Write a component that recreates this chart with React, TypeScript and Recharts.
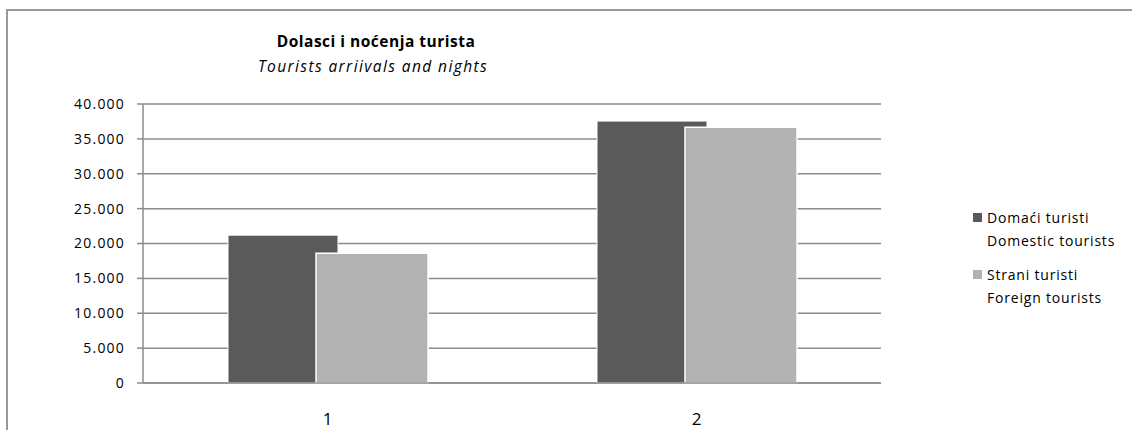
import React from 'react';
import { BarChart, Bar, XAxis, YAxis, CartesianGrid, Legend } from 'recharts';

const categories: string[] = ['1', '2'];
const domesticValues: number[] = [21200, 37550];
const foreignValues: number[] = [18600, 36650];
const yTicks: number[] = [0, 5000, 10000, 15000, 20000, 25000, 30000, 35000, 40000];
const domesticLabel: string[] = ['Domaći turisti', 'Domestic tourists'];
const foreignLabel: string[] = ['Strani turisti', 'Foreign tourists'];
const titleMain = 'Dolasci i noćenja turista';
const titleSub = 'Tourists arriivals and nights';

const data = categories.map((c, i) => ({
  name: c,
  domestic: domesticValues[i],
  foreign: foreignValues[i],
}));

const FONT = '"Open Sans", "Liberation Sans", sans-serif';
const GRID = '#8c8c8c';
const DARK = '#595a59';
const LIGHT = '#b2b2b2';

const fmt = (v: number) => String(v).replace(/\B(?=(\d{3})+(?!\d))/g, '.');

const LegendContent = () => {
  const items = [
    { color: DARK, lines: domesticLabel },
    { color: LIGHT, lines: foreignLabel },
  ];
  return (
    <div style={{ fontFamily: FONT, fontSize: 14, letterSpacing: 0.8, color: '#000', paddingLeft: 92 }}>
      {items.map((it, i) => (
        <div key={i} style={{ display: 'flex', alignItems: 'flex-start', marginBottom: i === 0 ? 11 : 0 }}>
          <div style={{ width: 9, height: 9, background: it.color, marginTop: 7, marginRight: 5 }} />
          <div style={{ lineHeight: '23px' }}>
            {it.lines.map((l, j) => (
              <div key={j}>{l}</div>
            ))}
          </div>
        </div>
      ))}
    </div>
  );
};

export default function App() {
  return (
    <div style={{ position: 'fixed', left: 0, top: 0, width: 1132, height: 430, overflow: 'hidden', background: '#fff' }}>
      <div
        style={{
          position: 'absolute',
          left: 6,
          top: 9,
          width: 1300,
          height: 600,
          border: '2px solid #999',
          boxSizing: 'border-box',
        }}
      />
      <div
        style={{
          position: 'absolute',
          left: 0,
          width: 752,
          top: 29,
          textAlign: 'center',
          fontFamily: FONT,
          color: '#000',
        }}
      >
        <div style={{ fontWeight: 700, fontSize: 15.5, letterSpacing: 0.5, lineHeight: '25px' }}>{titleMain}</div>
        <div style={{ fontStyle: 'italic', fontSize: 15.5, letterSpacing: 1.4, lineHeight: '25px', marginLeft: -6 }}>{titleSub}</div>
      </div>
      <div style={{ position: 'absolute', left: 0, top: 0 }}>
        <BarChart
          width={1132}
          height={430}
          data={data}
          margin={{ top: 104, right: 0, bottom: 7, left: 83 }}
          barGap={-22}
        >
          <CartesianGrid vertical={false} stroke={GRID} strokeWidth={1.5} />
          <XAxis
            dataKey="name"
            height={40}
            tickLine={false}
            axisLine={{ stroke: GRID, strokeWidth: 1.5 }}
            tickSize={0}
            tickMargin={30}
            tick={{ fill: '#000', fontSize: 17, fontFamily: FONT }}
          />
          <YAxis
            width={60}
            domain={[0, 40000]}
            ticks={yTicks}
            interval={0}
            tickFormatter={fmt}
            tickSize={6}
            tickMargin={12}
            axisLine={{ stroke: GRID, strokeWidth: 1.5 }}
            tickLine={{ stroke: GRID, strokeWidth: 1.5 }}
            tick={{ fill: '#000', fontSize: 14, fontFamily: FONT, letterSpacing: 1.2 }}
          />
          <Legend
            layout="vertical"
            align="right"
            verticalAlign="middle"
            content={<LegendContent />}
            wrapperStyle={{ width: 251, top: 206, right: 0 }}
          />
          <Bar
            dataKey="domestic"
            name="Domaći turisti"
            fill={DARK}
            stroke="#ffffff"
            strokeWidth={1}
            barSize={110}
            isAnimationActive={false}
          />
          <Bar
            dataKey="foreign"
            name="Strani turisti"
            fill={LIGHT}
            stroke="#ffffff"
            strokeWidth={1.5}
            barSize={112}
            isAnimationActive={false}
          />
        </BarChart>
      </div>
    </div>
  );
}
